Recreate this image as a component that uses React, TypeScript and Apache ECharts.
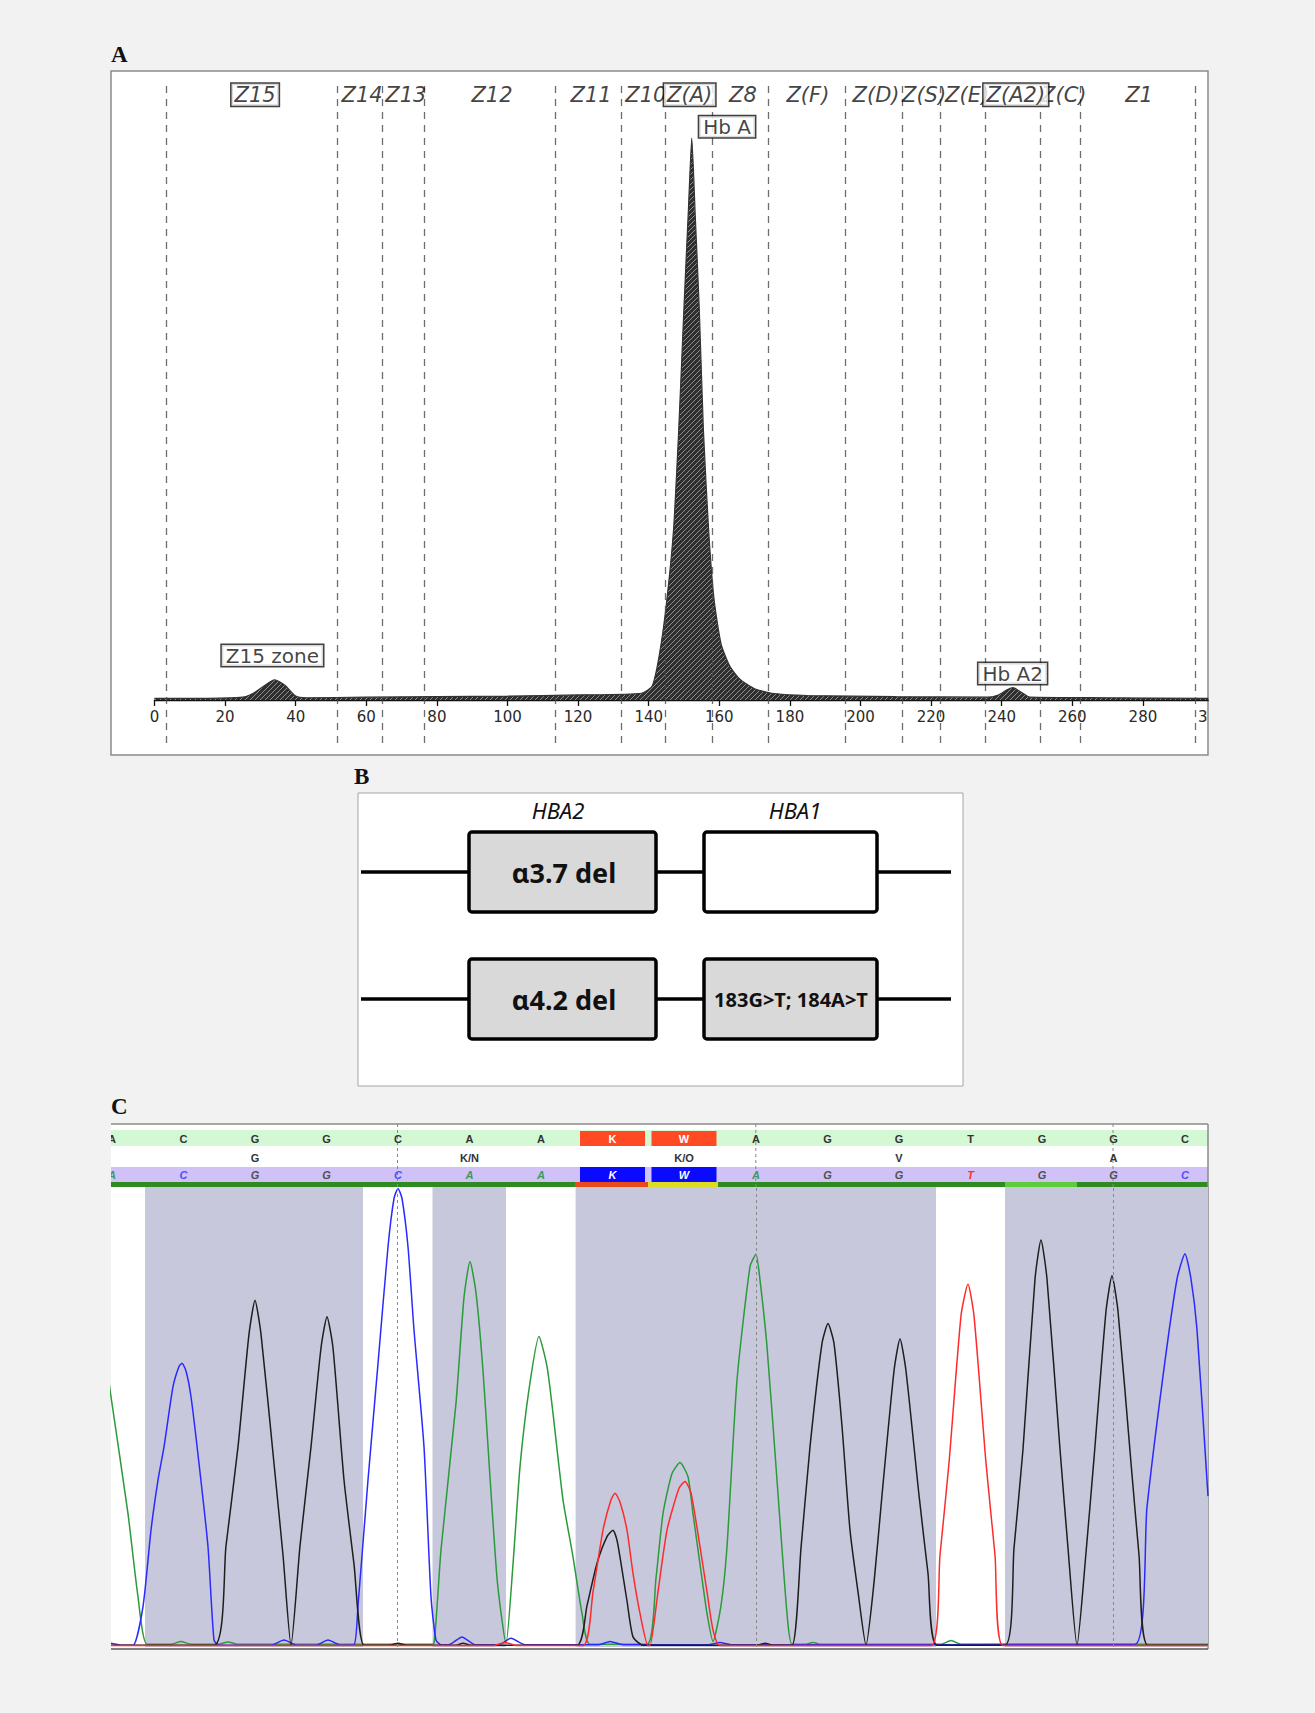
import React, { useEffect, useRef } from 'react';
import * as echarts from 'echarts';

const PAGE_W = 1315;
const PAGE_H = 1713;
const BG = '#f2f2f2';

// ---------- Panel A: HPLC chromatogram ----------
const hplcTicks = [0, 20, 40, 60, 80, 100, 120, 140, 160, 180, 200, 220, 240, 260, 280];
const hplcTrace: [number, number][] = [
  [0, 0.3], [15, 0.3], [25, 0.5], [28, 1.2], [31, 2.5], [34, 3.6], [37, 2.6], [40, 0.7], [43, 0.4],
  [60, 0.5], [80, 0.6], [100, 0.7], [120, 0.9], [138, 1.2], [141, 2.5], [143, 8], [145, 17], [147, 30],
  [148.5, 48], [150, 70], [151.3, 88], [152.2, 100], [153.2, 86], [154.3, 70], [155.5, 48], [157, 30],
  [158.5, 18], [160.5, 10], [163, 6], [166, 3.6], [170, 2], [175, 1.2], [185, 0.8], [210, 0.6],
  [236, 0.5], [239, 0.9], [241.5, 1.8], [243.2, 2.2], [245, 1.6], [248, 0.5], [270, 0.4], [298.5, 0.3],
];
const zoneBounds = [3.3, 51.9, 64.5, 76.3, 113.5, 132.2, 144.6, 157.9, 173.8, 195.6, 211.8, 222.5, 235.3, 250.9, 262.2, 294.8];
const zoneNames = ['Z15', 'Z14', 'Z13', 'Z12', 'Z11', 'Z10', 'Z(A)', 'Z8', 'Z(F)', 'Z(D)', 'Z(S)', 'Z(E)', 'Z(A2)', 'Z(C)', 'Z1'];
const zoneLabelX = [28.5, 58.8, 71.2, 95.6, 123.7, 139.2, 151.6, 166.7, 185.1, 204.4, 218, 230.2, 244, 257.6, 278.9];
const zoneBoxed = ['Z15', 'Z(A)', 'Z(A2)'];
const zoneLabelY = 107.7;
const peakNames = ['Z15 zone', 'Hb A', 'Hb A2'];
const peakLabelPos: [number, number][] = [[33.4, 7.9], [162.2, 102], [243.1, 4.7]];

// ---------- Panel B: gene diagram ----------
const geneNames = ['HBA2', 'HBA1'];
const allele1 = ['α3.7 del', ''];
const allele2 = ['α4.2 del', '183G>T; 184A>T'];

// ---------- Panel C: Sanger trace ----------
const basePos = [1, 72.5, 144, 215.5, 287, 358.5, 430, 501.5, 573, 645, 716.5, 788, 859.5, 931, 1002.5, 1074];
const seqTop = ['A', 'C', 'G', 'G', 'C', 'A', 'A', 'K', 'W', 'A', 'G', 'G', 'T', 'G', 'G', 'C'];
const seqMid = ['', '', 'G', '', '', 'K/N', '', '', 'K/O', '', '', 'V', '', '', 'A', ''];
const seqBottom = ['A', 'C', 'G', 'G', 'C', 'A', 'A', 'K', 'W', 'A', 'G', 'G', 'T', 'G', 'G', 'C'];
const mixedIdx = [7, 8];
const cursorPos = [286.5, 644.8, 1002];
const grayBands: [number, number][] = [[34, 252], [321.5, 395], [464.6, 825], [894, 1097]];
const qualitySegments: [number, number, string][] = [
  [0, 464, '#2f8a22'], [464, 537, '#e84a1e'], [537, 607, '#dcdc22'], [607, 894, '#2f8a22'],
  [894, 966, '#5dcc3c'], [966, 1097, '#2f8a22'],
];

const traceA: [number, number][] = [
  [-10, 700], [0, 544], [17, 290], [27, 109], [36, 6], [60, 6], [70, 12], [80, 6], [108, 6], [117, 11], [126, 6],
  [318, 6], [323, 8], [330, 211], [345, 530], [353, 760], [359, 838], [365, 770], [372, 600], [386, 150], [395, 8],
  [402, 180], [409, 392], [418, 560], [428, 675], [436, 610], [442, 508], [452, 320], [462, 196], [471, 73], [479, 6],
  [536, 6], [545, 150], [552, 290], [561, 377], [569, 401], [577, 370], [582, 290], [589, 180], [596, 73], [602, 12],
  [610, 90], [616, 218], [626, 580], [639, 827], [645, 854], [649, 798], [656, 653], [666, 363], [676, 73], [681, 6],
  [695, 6], [702, 10], [709, 6], [830, 6], [840, 14], [850, 6], [1097, 6],
];
const traceC: [number, number][] = [
  [0, 8], [10, 4], [22, 4], [32, 88], [40, 254], [47, 363], [53, 435], [62, 566], [68, 610], [71, 617], [75, 600],
  [80, 544], [88, 399], [97, 218], [103, 15], [108, 4], [160, 4], [173, 15], [186, 4], [205, 4], [217, 15], [230, 4],
  [243, 5], [247, 90], [257, 363], [267, 616], [277, 870], [283, 975], [287, 997], [291, 975], [297, 870], [303, 689],
  [313, 435], [320, 109], [325, 15], [330, 5], [338, 5], [351, 22], [364, 5], [388, 5], [400, 19], [414, 5],
  [488, 5], [499, 12], [512, 5], [598, 5], [609, 10], [620, 5], [1024, 6], [1036, 304], [1052, 589], [1066, 800],
  [1074, 855], [1080, 800], [1086, 690], [1097, 328],
];
const traceG: [number, number][] = [
  [0, 4], [103, 4], [115, 220], [127, 435], [138, 680], [144, 754], [150, 680], [163, 399], [172, 200], [180, 4],
  [189, 220], [200, 435], [210, 650], [216, 718], [222, 650], [233, 363], [243, 180], [253, 4], [278, 4], [287, 8],
  [296, 4], [345, 4], [352, 8], [360, 4], [466, 4], [476, 90], [486, 182], [496, 240], [502, 254], [506, 232],
  [510, 182], [516, 100], [522, 22], [532, 4], [646, 4], [654, 8], [662, 4], [681, 4], [690, 215], [699, 435],
  [711, 660], [717, 703], [723, 660], [731, 480], [739, 254], [747, 120], [755, 4], [763, 140], [771, 330],
  [783, 600], [789, 670], [795, 600], [808, 330], [817, 160], [826, 4], [894, 4], [903, 215], [912, 430],
  [924, 800], [930, 885], [936, 800], [949, 430], [957, 215], [966, 4], [975, 205], [983, 410], [995, 730],
  [1001, 807], [1007, 730], [1020, 400], [1028, 200], [1037, 4], [1097, 4],
];
const traceT: [number, number][] = [
  [0, 3], [382, 3], [394, 10], [406, 3], [472, 3], [482, 120], [492, 254], [500, 320], [504, 334], [509, 315],
  [516, 254], [522, 160], [529, 73], [537, 3], [539, 3], [547, 120], [556, 254], [568, 345], [574, 360], [580, 335],
  [589, 218], [596, 120], [602, 37], [609, 3], [820, 3], [829, 200], [838, 400], [850, 720], [857, 789], [863, 720],
  [875, 400], [884, 200], [892, 3], [1097, 3],
];

// ---------- layout constants ----------
const A_LEFT = 154.5;
const A_PX_PER_UNIT = 3.53;
const A_MAX = 298.5;
const A_TOP = 82;
const A_AXIS_Y = 700;
const A_ZONE_BOTTOM = 743;
const A_PX_PER_PCT = 5.62;
const C_LEFT = 111;
const C_TOP = 1187;
const C_W = 1097;
const C_H = 460;

const baseColor: Record<string, string> = { A: '#3a9a5e', C: '#4f4fff', G: '#505050', T: '#ff3030' };

const hatchSvg =
  "<svg xmlns='http://www.w3.org/2000/svg' width='5' height='5'>" +
  "<rect width='5' height='5' fill='#2f2f2f'/>" +
  "<path d='M0 5 L5 0 M-1 1 L1 -1 M4 6 L6 4' stroke='#9a9a9a' stroke-width='0.9'/></svg>";
const hatchUrl = 'data:image/svg+xml;charset=utf-8,' + encodeURIComponent(hatchSvg);

function txt(text: string, x: number, y: number, font: string, fill: string, align = 'center') {
  return {
    type: 'text',
    silent: true,
    style: { text, x, y, font, fill, align, verticalAlign: 'middle', textAlign: align, textVerticalAlign: 'middle' },
  };
}
function rect(x: number, y: number, w: number, h: number, style: any, r = 0) {
  return { type: 'rect', silent: true, shape: { x, y, width: w, height: h, r }, style };
}
function line(x1: number, y1: number, x2: number, y2: number, style: any) {
  return { type: 'line', silent: true, shape: { x1, y1, x2, y2 }, style };
}

function buildGraphics() {
  const g: any[] = [];
  // Panel A frame
  g.push(rect(111, 71, 1097, 684, { fill: '#ffffff', stroke: '#8c8c8c', lineWidth: 1.5 }));
  g.push(txt('3', 1198, 717, '15px "DejaVu Sans"', '#2a2a2a', 'left'));
  // Panel letters
  g.push(txt('A', 111, 54, 'bold 23px "Liberation Serif"', '#111', 'left'));
  g.push(txt('B', 354, 776, 'bold 23px "Liberation Serif"', '#111', 'left'));
  g.push(txt('C', 111, 1106, 'bold 23px "Liberation Serif"', '#111', 'left'));

  // Panel B
  g.push(rect(358, 793, 605, 293, { fill: '#ffffff', stroke: '#a5a5a5', lineWidth: 1 }));
  const rowsY = [872, 999];
  rowsY.forEach((y) => g.push(line(361, y, 951, y, { stroke: '#000', lineWidth: 3.5 })));
  const boxX: [number, number][] = [[469, 187], [704, 173]];
  const rowAlleles = [allele1, allele2];
  rowsY.forEach((y, ri) => {
    boxX.forEach(([bx, bw], bi) => {
      const filled = ri === 1 || bi === 0;
      g.push(rect(bx, y - 40, bw, 80, { fill: filled ? '#d9d9d9' : '#ffffff', stroke: '#000', lineWidth: 3.5 }, 3));
      const label = rowAlleles[ri][bi];
      if (label) {
        const big = label.startsWith('α');
        g.push(txt(label, bi === 0 ? 564 : 791, y, big ? 'bold 27px "Noto Sans"' : 'bold 20px "Noto Sans"', '#111'));
      }
    });
  });
  g.push(txt(geneNames[0], 558, 810, 'italic 22px "Noto Sans"', '#111'));
  g.push(txt(geneNames[1], 795, 810, 'italic 22px "Noto Sans"', '#111'));

  // Panel C sequence rows
  g.push(rect(C_LEFT, 1124, C_W, 63, { fill: '#ffffff' }));
  g.push(rect(C_LEFT, 1130, C_W, 16, { fill: '#d4f8d4' }));
  g.push(rect(C_LEFT, 1167, C_W, 15, { fill: '#d0c2f7' }));
  qualitySegments.forEach(([a, b, c]) => g.push(rect(C_LEFT + a, 1182, b - a, 6, { fill: c })));
  mixedIdx.forEach((i) => {
    const cx = C_LEFT + basePos[i];
    g.push(rect(cx - 32.5, 1131, 65, 15, { fill: '#ff4a24' }));
    g.push(rect(cx - 32.5, 1167, 65, 15, { fill: '#0a0aff' }));
  });
  cursorPos.forEach((p) => g.push(line(C_LEFT + p, 1124, C_LEFT + p, 1187, { stroke: '#888', lineWidth: 1, lineDash: [3, 3] })));
  basePos.forEach((p, i) => {
    const cx = C_LEFT + p;
    const mixed = mixedIdx.includes(i);
    g.push(txt(seqTop[i], cx, 1138.5, 'bold 11px "Liberation Sans"', mixed ? '#ffffff' : '#333333'));
    if (seqMid[i]) g.push(txt(seqMid[i], cx, 1157.5, 'bold 11px "Liberation Sans"', '#333333'));
    g.push(txt(seqBottom[i], cx, 1174.5, 'italic bold 11px "Liberation Sans"', mixed ? '#ffffff' : baseColor[seqBottom[i]] || '#333'));
  });
  // clip the half-visible first base
  g.push(rect(90, 1126, 21, 62, { fill: BG }));
  // chart area background
  g.push(rect(C_LEFT, C_TOP, C_W, C_H + 1, { fill: '#ffffff' }));
  g.push(line(C_LEFT, 1124, 1208, 1124, { stroke: '#8a8a8a', lineWidth: 1.5 }));
  g.push(line(1208, 1124, 1208, 1649, { stroke: '#8a8a8a', lineWidth: 1.5 }));
  g.push(line(C_LEFT, 1649, 1208, 1649, { stroke: '#5a5a5a', lineWidth: 1.5 }));
  return g;
}

function buildOption(): any {
  const plainZones = zoneNames
    .map((n, i) => ({ name: n, value: [zoneLabelX[i], zoneLabelY] }))
    .filter((d) => !zoneBoxed.includes(d.name));
  const boxedZones = zoneNames
    .map((n, i) => ({ name: n, value: [zoneLabelX[i], zoneLabelY] }))
    .filter((d) => zoneBoxed.includes(d.name));
  const peakLabels = peakNames.map((n, i) => ({ name: n, value: peakLabelPos[i] }));
  const traceSeries = (data: [number, number][], color: string) => ({
    type: 'line',
    xAxisIndex: 1,
    yAxisIndex: 1,
    data,
    smooth: 0.2,
    showSymbol: false,
    silent: true,
    z: 4,
    lineStyle: { color, width: 1.5 },
  });
  const aPlotH = A_AXIS_Y - A_TOP;
  return {
    animation: false,
    backgroundColor: BG,
    graphic: { elements: buildGraphics() },
    grid: [
      { left: A_LEFT, top: A_TOP, width: A_MAX * A_PX_PER_UNIT, height: aPlotH },
      { left: C_LEFT, top: C_TOP, width: C_W, height: C_H },
      { left: A_LEFT, top: A_TOP, width: A_MAX * A_PX_PER_UNIT, height: A_ZONE_BOTTOM - A_TOP },
    ],
    xAxis: [
      {
        type: 'value', gridIndex: 0, min: 0, max: A_MAX, interval: 20,
        axisLine: { show: true, onZero: false, lineStyle: { color: '#111', width: 1.3 } },
        axisTick: { show: true, length: 6, customValues: hplcTicks, lineStyle: { color: '#111', width: 1.3 } },
        axisLabel: { customValues: hplcTicks, fontFamily: 'DejaVu Sans', fontSize: 15, color: '#2a2a2a', margin: 9 },
        splitLine: { show: false },
      },
      { type: 'value', gridIndex: 1, min: 0, max: C_W, show: false },
      { type: 'value', gridIndex: 2, min: 0, max: A_MAX, show: false },
    ],
    yAxis: [
      { type: 'value', gridIndex: 0, min: 0, max: aPlotH / A_PX_PER_PCT, show: false },
      { type: 'value', gridIndex: 1, min: 0, max: 1000, show: false },
      { type: 'value', gridIndex: 2, min: 0, max: 1, show: false },
    ],
    series: [
      {
        type: 'line', xAxisIndex: 2, yAxisIndex: 2, data: [[0, 0], [A_MAX, 0]], showSymbol: false, silent: true, z: 2,
        lineStyle: { width: 0, opacity: 0 },
        markLine: {
          silent: true, symbol: ['none', 'none'], label: { show: false },
          lineStyle: { type: [7, 6], color: '#4a4a4a', width: 1.3, opacity: 0.8 },
          data: zoneBounds.map((v) => ({ xAxis: v })),
        },
      },
      {
        type: 'line', xAxisIndex: 0, yAxisIndex: 0, data: hplcTrace, smooth: 0.2, showSymbol: false, silent: true, z: 3,
        lineStyle: { color: '#333', width: 1.2 },
        areaStyle: { color: { image: hatchUrl, repeat: 'repeat' }, opacity: 1 },
      },
      {
        type: 'scatter', xAxisIndex: 0, yAxisIndex: 0, symbolSize: 1, itemStyle: { color: 'rgba(0,0,0,0)' }, z: 5, silent: true,
        data: plainZones,
        label: { show: true, position: 'inside', formatter: '{b}', fontFamily: 'DejaVu Sans', fontStyle: 'italic', fontSize: 21, color: '#111' },
      },
      {
        type: 'scatter', xAxisIndex: 0, yAxisIndex: 0, symbolSize: 1, itemStyle: { color: 'rgba(0,0,0,0)' }, z: 6, silent: true,
        data: boxedZones,
        label: {
          show: true, position: 'inside', formatter: '{b}', fontFamily: 'DejaVu Sans', fontStyle: 'italic', fontSize: 21, color: '#111',
          backgroundColor: '#ffffff', borderColor: '#111', borderWidth: 1.5, padding: [1, 3, 0, 3],
        },
      },
      {
        type: 'scatter', xAxisIndex: 0, yAxisIndex: 0, symbolSize: 1, itemStyle: { color: 'rgba(0,0,0,0)' }, z: 6, silent: true,
        data: peakLabels,
        label: {
          show: true, position: 'inside', formatter: '{b}', fontFamily: 'DejaVu Sans', fontSize: 20, color: '#111',
          backgroundColor: '#ffffff', borderColor: '#111', borderWidth: 1.5, padding: [1, 4, 0, 4],
        },
      },
      {
        type: 'line', xAxisIndex: 1, yAxisIndex: 1, data: [[0, 0], [C_W, 0]], showSymbol: false, silent: true, z: 1,
        lineStyle: { width: 0, opacity: 0 },
        markArea: {
          silent: true, itemStyle: { color: '#c8c8dc', opacity: 1 },
          data: grayBands.map(([a, b]) => [{ xAxis: a }, { xAxis: b }]),
        },
        markLine: {
          silent: true, symbol: ['none', 'none'], label: { show: false },
          lineStyle: { type: [3, 3], color: '#888', width: 1 },
          data: cursorPos.map((v) => ({ xAxis: v })),
        },
      },
      traceSeries(traceA, '#2a9a3a'),
      traceSeries(traceC, '#2a2aff'),
      traceSeries(traceG, '#1e1e1e'),
      traceSeries(traceT, '#ff2a2a'),
    ],
  };
}

export default function App() {
  const ref = useRef<HTMLDivElement>(null);
  useEffect(() => {
    if (!ref.current) return;
    const chart = echarts.init(ref.current, undefined, { renderer: 'svg' });
    chart.setOption(buildOption());
    return () => chart.dispose();
  }, []);
  return (
    <div
      ref={ref}
      style={{ position: 'absolute', left: 0, top: 0, width: PAGE_W, height: PAGE_H, background: BG }}
    />
  );
}
